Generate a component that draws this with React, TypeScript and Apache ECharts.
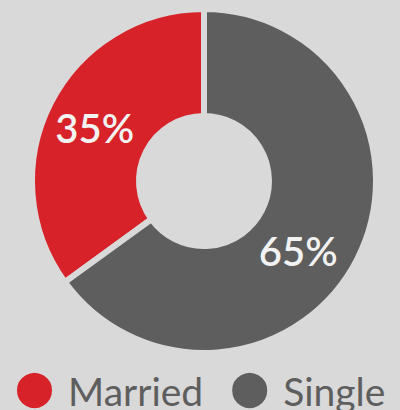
import React, { useEffect, useRef } from "react";
import * as echarts from "echarts";

const categories = ["Married", "Single"];
const values = [35, 65];
const colors = ["#d7222a", "#5e5e5e"];
const labelOffsets = [[-1, 2], [-14, 15]];

export default function App() {
  const ref = useRef<HTMLDivElement>(null);
  useEffect(() => {
    document.body.style.margin = "0";
    document.body.style.background = "#d9d9d9";
    const chart = echarts.init(ref.current!, null, { renderer: "svg" });
    chart.setOption({
      animation: false,
      backgroundColor: "#d9d9d9",
      color: colors,
      legend: {
        data: categories,
        left: 15,
        top: 371,
        width: 385,
        padding: 0,
        icon: "circle",
        itemWidth: 37,
        itemHeight: 37,
        itemGap: 27,
        textStyle: {
          fontFamily: "Lato",
          fontSize: 39,
          fontWeight: 400,
          lineHeight: 36,
          color: "#5e5e5e",
          padding: [0, 0, 0, 10],
        },
      },
      series: [
        {
          type: "pie",
          center: [204, 181],
          radius: [65, 172],
          startAngle: 90,
          clockwise: false,
          itemStyle: { borderColor: "#d9d9d9", borderWidth: 6 },
          label: {
            show: true,
            position: "inside",
            formatter: "{c}%",
            fontFamily: "Lato",
            fontSize: 40,
            fontWeight: 600,
            color: "#f2f2f2",
          },
          labelLine: { show: false },
          emphasis: { disabled: true },
          data: categories.map((name, i) => ({
            name,
            value: values[i],
            label: { offset: labelOffsets[i] },
          })),
        },
      ],
    });
    return () => chart.dispose();
  }, []);
  return <div ref={ref} style={{ width: 400, height: 410 }} />;
}
